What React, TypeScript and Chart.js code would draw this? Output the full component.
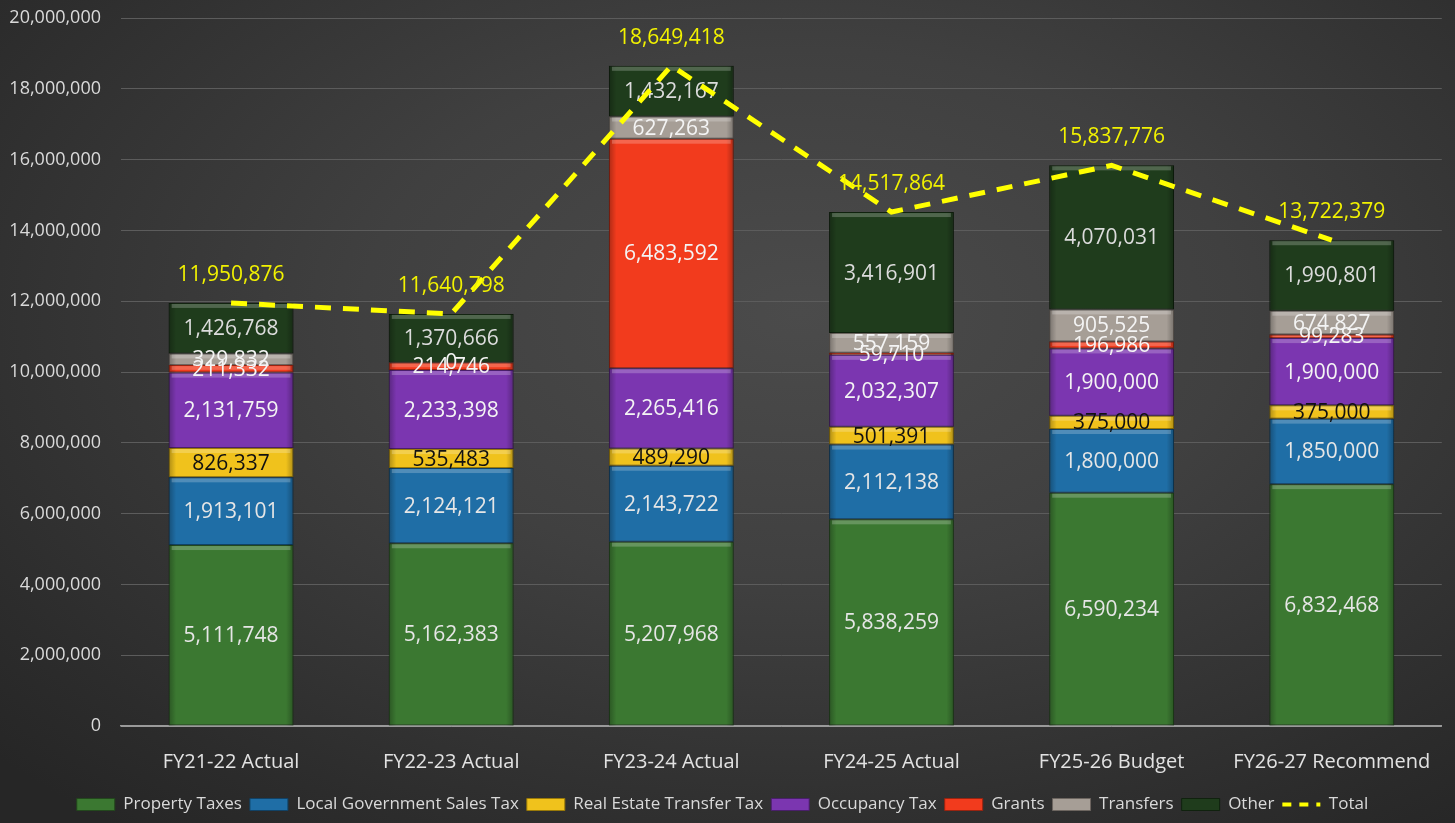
import React, { useEffect, useRef } from "react";
import { Chart, registerables } from "chart.js";

Chart.register(...registerables);

const categories = [
  "FY21-22 Actual",
  "FY22-23 Actual",
  "FY23-24 Actual",
  "FY24-25 Actual",
  "FY25-26 Budget",
  "FY26-27 Recommend",
];
const propertyTaxes = [5111748, 5162383, 5207968, 5838259, 6590234, 6832468];
const localGovSalesTax = [1913101, 2124121, 2143722, 2112138, 1800000, 1850000];
const realEstateTransferTax = [826337, 535483, 489290, 501391, 375000, 375000];
const occupancyTax = [2131759, 2233398, 2265416, 2032307, 1900000, 1900000];
const grants = [211332, 214746, 6483592, 59710, 196986, 99283];
const transfers = [329832, 0, 627263, 557159, 905525, 674827];
const other = [1426768, 1370666, 1432167, 3416901, 4070031, 1990801];
const totals = [11950876, 11640798, 18649418, 14517864, 15837776, 13722379];

const seriesNames = [
  "Property Taxes",
  "Local Government Sales Tax",
  "Real Estate Transfer Tax",
  "Occupancy Tax",
  "Grants",
  "Transfers",
  "Other",
];
const seriesValues = [
  propertyTaxes,
  localGovSalesTax,
  realEstateTransferTax,
  occupancyTax,
  grants,
  transfers,
  other,
];
const seriesColors = ["#3b7831", "#1f6ea6", "#f0c21c", "#7b36b0", "#f23b1d", "#a69e96", "#1f3c1c"];
const seriesBorders = ["#23481d", "#114266", "#9a7a08", "#4a1f6b", "#9a2410", "#6d6660", "#10220e"];
const labelColors = ["#e6e6e6", "#e6e6e6", "#111111", "#f4f4f4", "#f4f4f4", "#f4f4f4", "#dcdcdc"];

const Y_MIN = 0;
const Y_MAX = 20000000;
const Y_STEP = 2000000;

const FONT = "'Open Sans', 'Noto Sans', sans-serif";
const fmt = (v: number) => Math.round(v).toLocaleString("en-US");

const decorPlugin = {
  id: "decor",
  afterDatasetDraw(chart: any, args: any) {
    if (args.index > 6) return;
    const ctx = chart.ctx;
    const meta = chart.getDatasetMeta(args.index);
    ctx.save();
    meta.data.forEach((el: any) => {
      const p = el.getProps(["x", "y", "base", "width"], true);
      const h = p.base - p.y;
      if (h < 1) return;
      const left = p.x - p.width / 2;
      const g = ctx.createLinearGradient(left, 0, left + p.width, 0);
      g.addColorStop(0, "rgba(0,0,0,0.28)");
      g.addColorStop(0.06, "rgba(0,0,0,0)");
      g.addColorStop(0.94, "rgba(0,0,0,0)");
      g.addColorStop(1, "rgba(0,0,0,0.28)");
      ctx.fillStyle = g;
      ctx.fillRect(left, p.y, p.width, h);
      const hl = Math.min(4, h / 2);
      ctx.fillStyle = "rgba(255,255,255,0.22)";
      ctx.fillRect(left + 3, p.y + 1, p.width - 6, hl);
    });
    ctx.restore();
  },
  beforeDatasetDraw(chart: any, args: any) {
    if (args.index !== 7) return;
    const ctx = chart.ctx;
    ctx.save();
    ctx.font = `21px ${FONT}`;
    ctx.textAlign = "center";
    ctx.textBaseline = "middle";
    for (let i = 0; i < 7; i++) {
      const meta = chart.getDatasetMeta(i);
      ctx.fillStyle = labelColors[i];
      meta.data.forEach((el: any, j: number) => {
        const p = el.getProps(["x", "y", "base"], true);
        ctx.fillText(fmt(seriesValues[i][j]), p.x, (p.y + p.base) / 2 + 1);
      });
    }
    ctx.restore();
  },
  afterDatasetsDraw(chart: any) {
    const ctx = chart.ctx;
    const meta = chart.getDatasetMeta(7);
    ctx.save();
    ctx.font = `21px ${FONT}`;
    ctx.textAlign = "center";
    ctx.textBaseline = "middle";
    ctx.fillStyle = "#f2f200";
    meta.data.forEach((el: any, j: number) => {
      const p = el.getProps(["x", "y"], true);
      ctx.fillText(fmt(totals[j]), p.x, p.y - 28);
    });
    ctx.restore();
  },
};

export default function App() {
  const ref = useRef<HTMLCanvasElement | null>(null);

  useEffect(() => {
    if (!ref.current) return;
    const barSets = seriesNames.map((name, i) => ({
      type: "bar" as const,
      label: name,
      data: seriesValues[i],
      backgroundColor: seriesColors[i],
      borderColor: seriesBorders[i],
      borderWidth: 1,
      borderSkipped: false,
      stack: "s",
      order: 1,
      barPercentage: 0.567,
      categoryPercentage: 1,
    }));
    const chart = new Chart(ref.current, {
      type: "bar",
      data: {
        labels: categories,
        datasets: [
          ...barSets,
          {
            type: "line" as const,
            label: "Total",
            data: totals,
            borderColor: "#ffff00",
            backgroundColor: "#ffff00",
            borderWidth: 5,
            borderDash: [16, 12],
            pointRadius: 0,
            tension: 0,
            fill: false,
            order: 0,
          } as any,
        ],
      },
      options: {
        animation: false,
        responsive: true,
        maintainAspectRatio: false,
        layout: { padding: { top: 18, right: 10, left: 0, bottom: 0 } },
        plugins: {
          tooltip: { enabled: false },
          legend: {
            position: "bottom",
            labels: {
              color: "#d9d9d9",
              font: { family: FONT, size: 17 },
              usePointStyle: true,
              pointStyleWidth: 38,
              boxHeight: 12,
              padding: 8,
              generateLabels: (chart: any) => {
                const items = Chart.defaults.plugins.legend.labels.generateLabels(chart);
                return items
                  .map((it: any) => {
                    const i = it.datasetIndex;
                    if (i === 7) {
                      return {
                        ...it,
                        pointStyle: "line",
                        fillStyle: "rgba(0,0,0,0)",
                        strokeStyle: "#ffff00",
                        lineWidth: 4,
                        lineDash: [9, 8],
                        fontColor: "#d9d9d9",
                      };
                    }
                    return {
                      ...it,
                      pointStyle: "rect",
                      fillStyle: seriesColors[i],
                      strokeStyle: seriesBorders[i],
                      lineWidth: 1,
                      lineDash: [],
                      fontColor: "#d9d9d9",
                    };
                  })
                  .sort((a: any, b: any) => a.datasetIndex - b.datasetIndex);
              },
            },
          },
        },
        scales: {
          x: {
            stacked: true,
            grid: { display: false, drawTicks: false },
            border: { display: true, color: "#9a9a9a", width: 1.5 },
            afterFit: (scale: any) => {
              scale.height = scale.height - 10;
            },
            ticks: {
              color: "#e2e2e2",
              font: { family: FONT, size: 20 },
              padding: 24,
              maxRotation: 0,
              autoSkip: false,
            },
          },
          y: {
            stacked: true,
            min: Y_MIN,
            max: Y_MAX,
            afterFit: (scale: any) => {
              scale.width = 121;
            },
            grid: {
              color: (c: any) => (c.tick && c.tick.value === 0 ? "#9a9a9a" : "#5c5c5c"),
              lineWidth: 1,
              drawTicks: true,
              tickLength: 20,
              tickColor: "rgba(0,0,0,0)",
            },
            border: { display: false },
            ticks: {
              stepSize: Y_STEP,
              color: "#dadada",
              font: { family: FONT, size: 18 },
              padding: 0,
              callback: (v: any) => fmt(Number(v)),
            },
          },
        },
      },
      plugins: [decorPlugin],
    } as any);
    return () => chart.destroy();
  }, []);

  return (
    <div
      style={{
        position: "fixed",
        left: 0,
        top: 0,
        width: 1455,
        height: 823,
        background:
          "radial-gradient(ellipse 75% 80% at 55% 38%, #4b4b4b 0%, #404040 40%, #2c2c2c 85%, #262626 100%)",
      }}
    >
      <canvas ref={ref} />
    </div>
  );
}
